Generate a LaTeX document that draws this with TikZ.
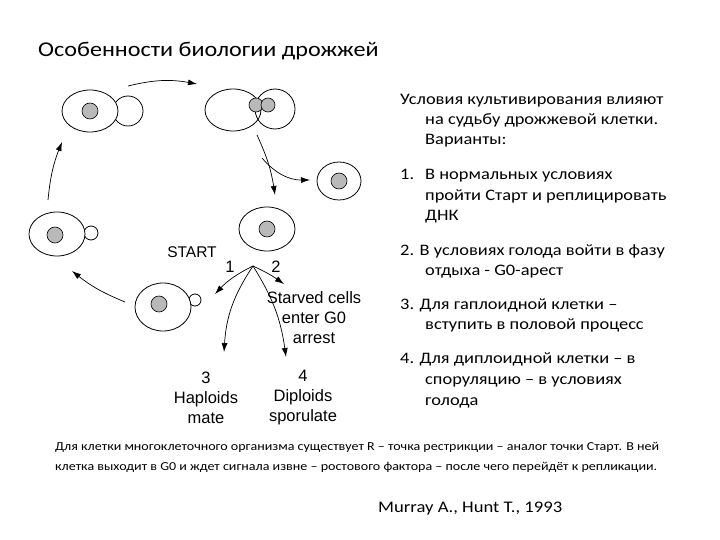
\documentclass[tikz,border=0pt]{standalone}
\usepackage{fontspec}
\usetikzlibrary{arrows.meta}
\setmainfont{Carlito}
\newfontfamily\wide[FakeStretch=1.15]{Carlito}
\newfontfamily\arial{Liberation Sans}
\begin{document}
\begin{tikzpicture}[x=1pt,y=-1pt,
  cell/.style={draw,line width=0.8pt},
  nuc/.style={draw,fill=gray!55,line width=0.6pt},
  arr/.style={-{Latex[length=9pt,width=6pt]},line width=0.7pt},
  lab/.style={font=\arial\fontsize{16.5}{20}\selectfont,align=center,inner sep=0pt},
  rt/.style={anchor=base west,inner sep=0pt,font=\wide\fontsize{16}{18}\selectfont},
  bt/.style={anchor=base west,inner sep=0pt,font=\wide\fontsize{12.2}{14}\selectfont}]
\useasboundingbox (0,0) rectangle (720,540);
\fill[white] (0,0) rectangle (720,540);
% title
\node[anchor=base west,inner sep=0pt,font=\wide\fontsize{21}{24}\selectfont] (title) at (38,57) {Особенности биологии дрожжей};
% top-left budding
\draw[cell,fill=white] (128,111) circle (15);
\draw[cell,fill=white] (90,111) ellipse (28 and 21);
\draw[nuc] (90,111) circle (8);
% top-right dividing
\draw[cell] (275,109) circle (20);
\draw[cell] (233,110) ellipse (28 and 21);
\draw[nuc] (256,105) circle (7);
\draw[nuc] (268,105) circle (7);
% small right
\draw[cell] (339,181) ellipse (22 and 19);
\draw[nuc] (339,181) circle (8);
% right middle
\draw[cell] (267,229) ellipse (28 and 22);
\draw[nuc] (267,229) circle (8);
% bottom
\draw[cell,fill=white] (195,300) circle (6);
\draw[cell,fill=white] (163,307) ellipse (28 and 24);
\draw[nuc] (159,304) circle (8);
% left
\draw[cell,fill=white] (91,233) circle (7);
\draw[cell,fill=white] (57,234) ellipse (28 and 22);
\draw[nuc] (55,235) circle (8);
% labels
\node[lab,font=\arial\fontsize{15.5}{18}\selectfont] (start) at (192,252) {START};
\node[lab] (one) at (230,267) {1};
\node[lab] (two) at (276,267) {2};
\coordinate (b) at (253,266);
\node[lab] (starved) at (314,318) {Starved cells\\enter G0\\arrest};
\node[lab] (hap) at (206,398) {3\\Haploids\\mate};
\node[lab] (dip) at (303,398) {4\\Diploids\\sporulate};
% arrows
\draw[arr] (128,86) to[bend left=12] (197,84);
\draw[arr] (257,135) to[bend left=8] (275,195);
\draw[arr] (262,158) to[bend right=25] (310,180);
\draw[arr] (48,200) to[bend left=8] (62,142);
\draw[arr] (125,302) to[bend left=8] (72,271);
\draw[arr] (b) to[bend right=10] (215,294);
\draw[arr] (b) to[bend left=5] (284,284);
\draw[arr] (b) to[bend right=15] (224,352);
\draw[arr] (b) to[bend left=12] (286,357);
% right text
\node[rt] (r1) at (400,105) {Условия культивирования влияют};
\node[rt] (r2) at (425,125) {на судьбу дрожжевой клетки.};
\node[rt] (r3) at (425,145) {Варианты:};
\node[rt] (r4n) at (400,180) {1.};
\node[rt] (r4) at (425,180) {В нормальных условиях};
\node[rt] (r5) at (425,201) {пройти Старт и реплицировать};
\node[rt] (r6) at (425,221) {ДНК};
\node[rt] (r7) at (400,255) {2. В условиях голода войти в фазу};
\node[rt] (r8) at (425,275) {отдыха - G0-арест};
\node[rt] (r9) at (400,309) {3. Для гаплоидной клетки –};
\node[rt] (r10) at (425,329) {вступить в половой процесс};
\node[rt] (r11) at (400,363) {4. Для диплоидной клетки – в};
\node[rt] (r12) at (425,384) {споруляцию – в условиях};
\node[rt] (r13) at (425,405) {голода};
% bottom
\node[bt] (b1) at (55,450) {Для клетки многоклеточного организма существует R – точка рестрикции – аналог точки Старт. В ней};
\node[bt] (b2) at (55,470) {клетка выходит в G0 и ждет сигнала извне – ростового фактора – после чего перейдёт к репликации.};
\node[anchor=base west,inner sep=0pt,font=\wide\fontsize{16.2}{18}\selectfont] (ref) at (378,512) {Murray A., Hunt T., 1993};
\end{tikzpicture}
\end{document}
